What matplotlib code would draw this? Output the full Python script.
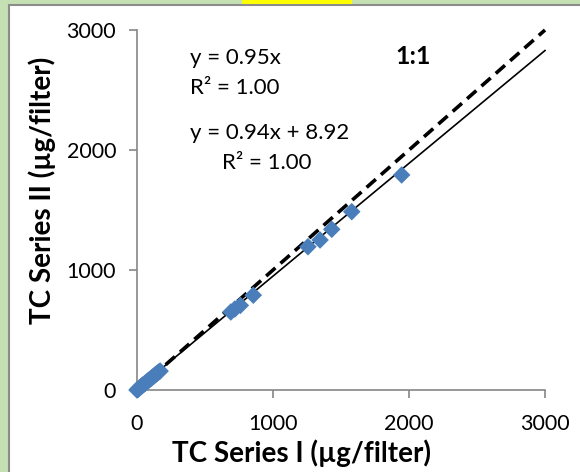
import matplotlib
matplotlib.use("Agg")
import matplotlib.pyplot as plt
from matplotlib.patches import Rectangle

# TC filter loadings, series I vs series II (µg/filter)
series_i = [0, 5, 10, 15, 20, 28, 35, 42, 50, 60, 70, 80, 90, 100, 110,
            120, 130, 140, 150, 160, 170,
            690, 720, 760, 855, 1257, 1346, 1432, 1579, 1946]
series_ii = [0, 4, 9, 14, 19, 27, 33, 40, 47, 56, 66, 75, 85, 94, 103,
             113, 122, 132, 141, 150, 158,
             650, 675, 705, 790, 1194, 1250, 1339, 1486, 1792]

fit_slope, fit_icpt = 0.94, 8.92
line_x = [0, 3000]
ticks = [0, 1000, 2000, 3000]

W, H = 580, 472
BG_GREEN = "#c5e0b3"
BLUE = "#4a7ebb"
GREY = "#868686"
FONT = ["Lato", "DejaVu Sans"]

plt.rcParams["font.family"] = FONT


def fx(px):
    return px / W


def fy(py):
    return 1 - py / H


fig = plt.figure(figsize=(W / 100, H / 100), dpi=100, facecolor=BG_GREEN)

# white chart panel with grey border, plus the yellow strip on top
fig.patches.append(Rectangle((fx(8.5), fy(H + 10)), fx(W), fy(4.5) - fy(H + 10),
                             transform=fig.transFigure, facecolor="white",
                             edgecolor="#8c8c8c", linewidth=1.5, zorder=-2))
fig.patches.append(Rectangle((fx(242), fy(4)), fx(352) - fx(242), fy(0) - fy(4),
                             transform=fig.transFigure, facecolor="#ffff00",
                             edgecolor="none", zorder=-1))

ax = fig.add_axes([fx(137), fy(390), fx(545) - fx(137), fy(30) - fy(390)])
ax.set_zorder(1)
ax.set_facecolor("none")

ax.plot(line_x, line_x, color="black", linewidth=2.6, dashes=(3.4, 1.9),
        zorder=2, clip_on=False)
ax.plot(line_x, [fit_slope * v + fit_icpt for v in line_x], color="black",
        linewidth=1.2, zorder=3, clip_on=False)
ax.scatter(series_i, series_ii, marker="D", s=80, color=BLUE,
           edgecolors="none", zorder=4, clip_on=False)

ax.set_xlim(0, 3000)
ax.set_ylim(0, 3000)
ax.set_xticks(ticks)
ax.set_yticks(ticks)
for side in ["top", "right"]:
    ax.spines[side].set_visible(False)
for side in ["left", "bottom"]:
    ax.spines[side].set_color(GREY)
    ax.spines[side].set_linewidth(1.2)
ax.tick_params(direction="out", length=6, width=1.2, color=GREY,
               labelsize=15.5, labelcolor="black")
ax.tick_params(axis="y", pad=9)
ax.tick_params(axis="x", pad=11)

# axis titles
fig.text(fx(301), fy(453), "TC Series I (µg/filter)", fontsize=20,
         fontweight="bold", ha="center", va="center")
fig.text(fx(42), fy(190), "TC Series II (µg/filter)", fontsize=20,
         fontweight="bold", ha="center", va="center", rotation=90)

# regression annotations
fig.text(fx(190), fy(58), "y = 0.95x", fontsize=16, va="center")
fig.text(fx(190), fy(88), "R² = 1.00", fontsize=16, va="center")
fig.text(fx(190), fy(133), "y = 0.94x + 8.92", fontsize=16, va="center")
fig.text(fx(222), fy(163), "R² = 1.00", fontsize=16, va="center")
fig.text(fx(413), fy(57), "1:1", fontsize=18, fontweight="bold",
         ha="center", va="center")

fig.savefig("out.png", dpi=100, facecolor=BG_GREEN)
